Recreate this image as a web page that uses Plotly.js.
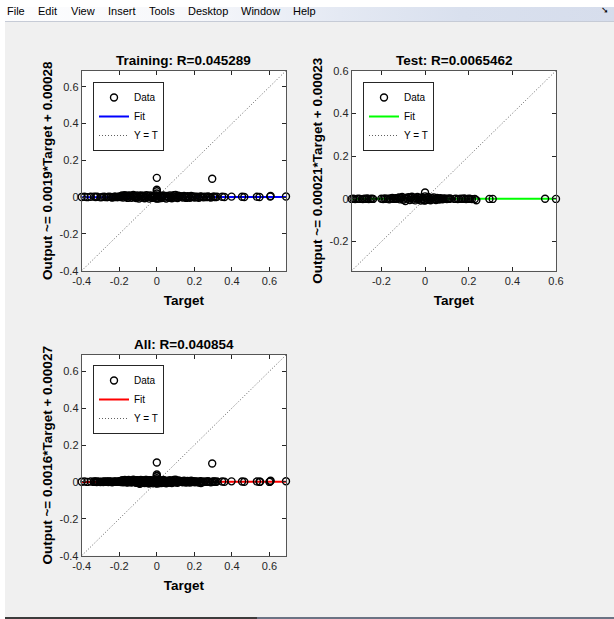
<!DOCTYPE html>
<html>
<head>
<meta charset="utf-8">
<script src="https://cdn.plot.ly/plotly-3.0.1.min.js"></script>
<style>
  html, body { margin:0; padding:0; background:#ffffff; width:614px; height:619px; overflow:hidden; }
  .bg { position:absolute; }
</style>
</head>
<body>
<!-- window chrome (background only) -->
<div class="bg" style="left:5px;top:7px;width:609px;height:14px;background:linear-gradient(to right,#fdfdfe 0%,#f7f8fb 30%,#e4e9f3 55%,#d9e0ee 75%,#d6ddec 100%);"></div>
<div class="bg" style="left:5px;top:21px;width:609px;height:1px;background:#c6cbd6;"></div>
<div class="bg" style="left:5px;top:22px;width:609px;height:595px;background:#f0f0f0;"></div>
<div class="bg" style="left:5px;top:617px;width:252px;height:2px;background:#3c3c3c;"></div>
<div class="bg" style="left:257px;top:617px;width:357px;height:2px;background:#6b7384;"></div>
<div id="chart" style="position:absolute;left:0;top:0;width:614px;height:619px;z-index:1;"></div>
<div class="bg" style="left:0;top:0;width:614px;height:7px;background:#ffffff;z-index:2;"></div>
<script>
// ---------------- data ----------------
const menuLabels = ['File','Edit','View','Insert','Tools','Desktop','Window','Help'];

const trainTitle = 'Training: R=0.045289';
const testTitle  = 'Test: R=0.0065462';
const allTitle   = 'All: R=0.040854';

const trainYLabel = 'Output ~= 0.0019*Target + 0.00028';
const testYLabel  = 'Output ~= 0.00021*Target + 0.00023';
const allYLabel   = 'Output ~= 0.0016*Target + 0.00027';

const trainFit = [0.0019, 0.00028];   // slope, intercept
const testFit  = [0.00021, 0.00023];
const allFit   = [0.0016, 0.00027];

const trainLim = [-0.4, 0.688];
const testLim  = [-0.336, 0.6];
const allLim   = [-0.4, 0.688];

const ticksA = [-0.4, -0.2, 0, 0.2, 0.4, 0.6];
const ticksAText = ['-0.4', '-0.2', '0', '0.2', '0.4', '0.6'];
const ticksB = [-0.2, 0, 0.2, 0.4, 0.6];
const ticksBText = ['-0.2', '0', '0.2', '0.4', '0.6'];

const trainTarget = [
 // sparse left
 -0.400,-0.385,-0.370,-0.352,-0.334,-0.326,-0.318,-0.300,-0.290,-0.280,-0.270,-0.262,
 -0.254,-0.245,-0.238,-0.232,-0.226,-0.220,-0.214,-0.208,-0.203,-0.198,-0.194,
 // dense band
 -0.190,-0.185,-0.180,-0.175,-0.170,-0.165,-0.160,-0.155,-0.150,-0.145,-0.140,-0.135,-0.130,
 -0.125,-0.120,-0.115,-0.110,-0.105,-0.100,-0.095,-0.090,-0.085,-0.080,-0.075,-0.070,-0.065,
 -0.060,-0.055,-0.050,-0.045,-0.040,-0.035,-0.030,-0.025,-0.020,-0.015,-0.010,-0.005,
 0.005,0.010,0.015,0.020,0.025,0.030,0.035,0.040,0.045,0.050,0.055,0.060,0.065,0.070,0.075,
 0.080,0.085,0.090,0.095,0.100,0.105,0.110,0.115,0.120,0.125,
 // at zero
 0.000,0.000,0.000,0.000,0.000,0.000,
 // middle
 0.132,0.138,0.145,0.150,0.157,0.163,0.170,0.176,0.183,0.190,0.196,0.203,0.210,0.217,
 0.224,0.232,0.240,0.248,0.256,0.264,0.272,0.280,0.288,0.295,0.300,0.306,0.312,0.320,
 // sparse right
 0.348,0.360,0.398,0.454,0.466,0.533,0.547,0.604,0.606,0.688
];
const trainOutput = [
 0.001,0.002,0.000,0.002,0.003,0.001,0.002,-0.001,0.001,0.002,0.000,0.001,
 0.002,0.001,-0.002,0.000,0.002,0.003,0.000,0.001,0.002,0.003,0.001,
 0.004,0.009,-0.002,0.006,0.011,0.001,0.007,-0.004,0.010,0.003,0.008,-0.003,0.006,
 0.012,0.000,0.005,-0.005,0.009,0.002,-0.007,0.006,0.010,-0.002,0.004,0.008,-0.006,
 0.003,0.011,-0.001,0.006,-0.008,0.009,0.002,-0.004,0.007,0.000,0.010,-0.006,
 0.004,-0.007,0.008,0.001,-0.005,0.006,0.010,-0.003,0.005,-0.008,0.007,0.002,-0.004,0.009,0.000,
 -0.006,0.005,0.011,-0.002,0.012,0.003,-0.005,0.008,0.001,0.005,
 0.105,0.040,0.032,0.020,0.010,-0.008,
 0.004,-0.002,0.006,0.001,-0.004,0.005,0.002,-0.003,0.006,0.000,0.004,-0.002,0.003,0.001,
 -0.003,0.004,0.002,-0.001,0.003,0.000,0.004,0.001,-0.002,0.100,0.002,0.003,0.000,0.002,
 0.002,0.001,0.003,0.002,0.001,0.002,0.001,0.003,0.006,0.004
];

const testTarget = [
 // sparse left
 -0.336,-0.328,-0.320,-0.312,-0.305,-0.298,-0.285,-0.278,-0.270,-0.264,-0.258,-0.250,-0.244,
 -0.238,-0.200,-0.192,-0.185,-0.178,-0.170,-0.164,-0.158,-0.150,-0.143,-0.136,-0.130,
 // dense band
 -0.125,-0.120,-0.115,-0.110,-0.105,-0.100,-0.095,-0.090,-0.085,-0.080,-0.075,-0.070,-0.065,
 -0.060,-0.055,-0.050,-0.045,-0.040,-0.035,-0.030,-0.025,-0.020,-0.015,-0.010,-0.005,
 0.005,0.010,0.015,0.020,0.025,0.030,0.035,0.040,0.045,0.050,0.055,0.060,0.065,0.070,0.075,
 0.080,0.085,0.090,0.095,0.100,0.105,0.110,0.115,
 // at zero
 0.000,0.000,0.000,
 // sparse right
 0.135,0.142,0.150,0.156,0.165,0.172,0.180,0.188,0.195,0.202,0.208,0.215,0.228,0.235,
 0.295,0.310,0.550,0.600
];
const testOutput = [
 0.000,0.001,-0.001,0.000,0.001,0.000,-0.001,0.001,0.000,0.002,-0.001,0.000,0.001,
 0.000,0.001,-0.001,0.002,0.000,0.001,-0.002,0.002,0.004,0.000,0.003,0.001,
 0.003,0.007,-0.002,0.005,0.009,-0.004,0.002,-0.010,0.006,0.001,0.008,-0.005,0.004,
 0.010,-0.003,0.006,-0.007,0.003,0.009,-0.002,0.005,-0.008,0.007,0.000,-0.006,
 0.006,-0.004,0.009,0.001,-0.006,0.005,-0.002,0.007,0.000,-0.005,0.004,0.001,-0.003,0.003,0.000,
 -0.002,0.002,0.000,0.001,-0.001,0.001,0.000,0.002,
 0.030,0.012,-0.008,
 0.000,0.001,-0.001,0.000,0.001,0.000,0.002,-0.001,0.000,0.001,0.000,-0.001,0.000,-0.006,
 0.000,0.000,0.001,0.000
];

const allTarget = trainTarget.concat(testTarget);
const allOutput = trainOutput.concat(testOutput);

// ---------------- layout helpers ----------------
const W = 614, H = 619;
const FONT = '"Liberation Sans", Arial, Helvetica, sans-serif';
const AX = '#262626';

function panel(n, target, output, fit, lim, color, legendId) {
  const xa = n === 1 ? 'x' : 'x' + n;
  const ya = n === 1 ? 'y' : 'y' + n;
  const fitY = lim.map(v => fit[0] * v + fit[1]);
  return [
    {type:'scatter', mode:'lines', x: lim, y: lim, xaxis: xa, yaxis: ya,
     name:'Y = T', legend: legendId, legendrank: 3,
     line:{color:'#606060', width:1, dash:'1px,2px'}, hoverinfo:'skip'},
    {type:'scatter', mode:'lines', x: lim, y: fitY, xaxis: xa, yaxis: ya,
     name:'Fit', legend: legendId, legendrank: 2,
     line:{color: color, width:2}, hoverinfo:'skip'},
    {type:'scatter', mode:'markers', x: target, y: output, xaxis: xa, yaxis: ya,
     name:'Data', legend: legendId, legendrank: 1, cliponaxis:false,
     marker:{symbol:'circle-open', size:7, color:'#000000', line:{width:1.4}}, hoverinfo:'skip'}
  ];
}

const traces = [].concat(
  panel(1, trainTarget, trainOutput, trainFit, trainLim, '#0000ff', 'legend'),
  panel(2, testTarget,  testOutput,  testFit,  testLim,  '#00ff00', 'legend2'),
  panel(3, allTarget,   allOutput,   allFit,   allLim,   '#ff0000', 'legend3')
);

function axis(domain, range, tv, tt, title, isY) {
  return {
    domain: domain, range: range, tickvals: tv, ticktext: tt,
    showline:true, mirror:'ticks', linecolor:'#555555', linewidth:1,
    ticks:'inside', ticklen:4, tickwidth:1, tickcolor:AX,
    showgrid:false, zeroline:false, fixedrange:true,
    tickfont:{family:FONT, size:11, color:AX},
    title:{text:title, font:{family:FONT, size:13.5, color:'#000', weight:700}, standoff: isY ? 3 : 9}
  };
}

const xd1 = [81.7/W, 286/W];
const xd2 = [351.7/W, 556/W];
const yd1 = [1 - 270.7/H, 1 - 70.7/H];
const yd3 = [1 - 555.7/H, 1 - 355/H];

function legendAt(px, py) {
  return {x: px/W, y: 1 - py/H, xanchor:'left', yanchor:'top', xref:'paper', yref:'paper',
          bgcolor:'#ffffff', bordercolor:'#262626', borderwidth:1,
          font:{family:FONT, size:10, color:'#000'}, tracegroupgap:0};
}

const annotations = [];
[[trainTitle,'x','y'],[testTitle,'x2','y2'],[allTitle,'x3','y3']].forEach(([t, xa, ya]) => {
  annotations.push({text:t, xref: xa + ' domain', yref: ya + ' domain', x:0.5, y:1,
    xanchor:'center', yanchor:'bottom', yshift:1, showarrow:false,
    font:{family:FONT, size:13.5, color:'#000', weight:700}});
});
const menuX = [5, 36, 69, 106, 147, 186, 239, 291];
menuLabels.forEach((m, i) => {
  annotations.push({text:m, xref:'paper', yref:'paper', x: menuX[i]/W, y: 1 - 11/H,
    xanchor:'left', yanchor:'middle', showarrow:false,
    font:{family:FONT, size:11, color:'#000'}});
});
annotations.push({text:'➘', xref:'paper', yref:'paper', x: 605/W, y: 1 - 10/H,
  xanchor:'center', yanchor:'middle', showarrow:false,
  font:{family:'DejaVu Sans', size:9, color:'#000'}});

const layout = {
  width: W, height: H, autosize:false,
  margin:{l:0, r:0, t:0, b:0, pad:0},
  paper_bgcolor:'rgba(0,0,0,0)', plot_bgcolor:'#ffffff',
  font:{family:FONT, color:AX},
  showlegend:true,
  xaxis:  axis(xd1, trainLim, ticksA, ticksAText, 'Target', false),
  yaxis:  axis(yd1, trainLim, ticksA, ticksAText, trainYLabel, true),
  xaxis2: axis(xd2, testLim, ticksB, ticksBText, 'Target', false),
  yaxis2: axis(yd1, testLim, ticksB, ticksBText, testYLabel, true),
  xaxis3: axis(xd1, allLim, ticksA, ticksAText, 'Target', false),
  yaxis3: axis(yd3, allLim, ticksA, ticksAText, allYLabel, true),
  legend:  legendAt(93, 82),
  legend2: legendAt(363, 82),
  legend3: legendAt(93, 365),
  annotations: annotations
};
layout.xaxis.anchor = 'y';   layout.yaxis.anchor = 'x';
layout.xaxis2.anchor = 'y2'; layout.yaxis2.anchor = 'x2';
layout.xaxis3.anchor = 'y3'; layout.yaxis3.anchor = 'x3';

Plotly.newPlot('chart', traces, layout, {staticPlot:true, displayModeBar:false});
</script>
</body>
</html>
